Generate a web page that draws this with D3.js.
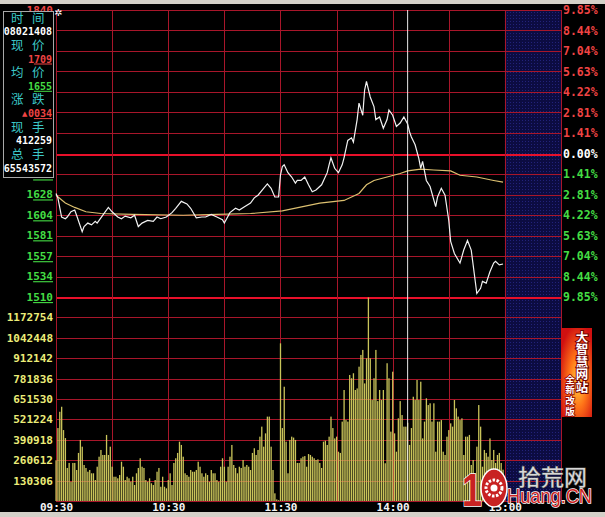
<!DOCTYPE html>
<html>
<head>
<meta charset="utf-8">
<script src="https://cdn.jsdelivr.net/npm/d3@7"></script>
<style>
    html, body { margin: 0; padding: 0; background: #000; overflow: hidden; }
    svg { display: block; }
</style>
</head>
<body>
<div id="chart"></div>
<script>
// values
const prevClose = 1675;
const limitPct = 9.85;

const priceTicks = [1840, 1816, 1793, 1769, 1746, 1722, 1698, 1675, 1651, 1628, 1604, 1581, 1557, 1534, 1510];
const pctTicks = ["9.85%", "8.44%", "7.04%", "5.63%", "4.22%", "2.81%", "1.41%", "0.00%",
                  "1.41%", "2.81%", "4.22%", "5.63%", "7.04%", "8.44%", "9.85%"];
const volumeTicks = [1172754, 1042448, 912142, 781836, 651530, 521224, 390918, 260612, 130306];
const timeTicks = [0, 60, 120, 180, 240];
const timeLabels = ["09:30", "10:30", "11:30", "14:00", "15:00"];

// minutes after 09:30 (13:00 = 120)
const priceMinutes = [0, 1, 3, 5, 6, 8, 10, 11, 14, 15, 17, 19, 21, 22, 24, 26, 28, 30, 33, 35, 37, 40, 42, 44, 46, 49,
    52, 54, 56, 59, 62, 64, 67, 70, 72, 75, 78, 80, 83, 86, 89, 90, 93, 96, 98, 101, 104, 106, 108, 111, 113, 115, 117, 119,
    120, 121, 122, 124, 126, 128, 129, 131, 133, 135, 137, 139, 142, 145, 146, 147, 149, 151, 153, 154, 156, 158, 159,
    161, 162, 164, 165, 166, 168, 170, 171, 173, 175, 177, 178, 180, 182, 184, 186, 188, 189, 190, 192, 194, 195, 196,
    198, 200, 203, 204, 206, 208, 210, 211, 213, 216, 218, 220, 222, 225, 227, 228, 230, 232, 234, 235, 237, 239];
const prices = [1629, 1624, 1602, 1600, 1602, 1608, 1610, 1604, 1585, 1591, 1595, 1593, 1597, 1595, 1601, 1607, 1613,
    1608, 1602, 1600, 1603, 1601, 1604, 1591, 1595, 1598, 1597, 1602, 1600, 1602, 1607, 1612, 1620, 1617, 1612, 1601,
    1602, 1602, 1605, 1602, 1599, 1595, 1607, 1612, 1610, 1614, 1618, 1624, 1627, 1635, 1640, 1635, 1625, 1625,
    1650, 1660, 1662, 1653, 1648, 1641, 1644, 1644, 1648, 1639, 1631, 1633, 1639, 1653, 1662, 1670, 1658, 1653, 1662,
    1670, 1690, 1693, 1688, 1714, 1733, 1719, 1748, 1758, 1740, 1729, 1714, 1717, 1704, 1714, 1725, 1719, 1706, 1710,
    1717, 1709, 1700, 1694, 1685, 1669, 1658, 1666, 1644, 1637, 1614, 1625, 1635, 1627, 1598, 1574, 1560, 1549, 1564,
    1575, 1564, 1514, 1520, 1528, 1526, 1539, 1549, 1551, 1547, 1548];

const avgMinutes = [0, 5, 10, 16, 24, 41, 68, 86, 104, 121, 130, 141, 154, 162, 166, 170, 177, 184, 188, 195, 202,
    211, 216, 225, 234, 239];
const avgPrices = [1627, 1618, 1613, 1608, 1606, 1605, 1604, 1605, 1606, 1609, 1613, 1618, 1621, 1629, 1639, 1644,
    1648, 1652, 1655, 1657, 1656, 1655, 1650, 1648, 1644, 1642];

// one bar per minute, thousands of shares
const volumesK = [
    260, 466, 570, 602, 453, 402, 211, 243, 123, 243,
    243, 198, 307, 390, 347, 230, 211, 187, 198, 177,
    177, 134, 219, 283, 326, 294, 294, 422, 294, 347,
    219, 155, 155, 145, 166, 251, 219, 134, 155, 145,
    123, 155, 102, 177, 211, 273, 219, 211, 134, 123,
    145, 113, 102, 134, 187, 211, 91, 155, 91, 81,
    134, 177, 102, 243, 273, 307, 379, 358, 283, 177,
    166, 155, 198, 187, 187, 198, 251, 219, 177, 155,
    177, 166, 123, 198, 177, 177, 134, 123, 219, 273,
    219, 123, 219, 283, 358, 230, 211, 177, 219, 211,
    262, 219, 230, 219, 198, 307, 337, 294, 326, 411,
    475, 347, 432, 539, 539, 347, 198, 49, 10, 5,
    1007, 466, 730, 379, 177, 390, 411, 405, 390, 243,
    243, 273, 283, 287, 219, 300, 294, 283, 273, 262,
    266, 243, 211, 379, 385, 358, 411, 539, 466, 400,
    411, 315, 307, 507, 709, 517, 507, 805, 784, 816,
    709, 719, 858, 933, 965, 751, 911, 1300, 911, 645,
    784, 965, 638, 709, 645, 709, 241, 880, 784, 443,
    826, 432, 315, 528, 638, 549, 475, 475, 500, 358,
    466, 666, 645, 773, 645, 762, 400, 507, 656, 613,
    624, 507, 624, 315, 507, 507, 517, 315, 294, 411,
    453, 496, 475, 645, 592, 539, 517, 528, 294, 411,
    411, 422, 230, 262, 177, 347, 613, 475, 219, 326,
    307, 283, 400, 262, 326, 243, 294, 307, 243, 200
];

const cursorMinute = 188;
const panelLabels = ["时间", "现价", "均价", "涨跌", "现手", "总手"];
const panelValues = ["08021408", "1709", "1655", "0034", "412259", "65543572"];
const bannerTitle = "大智慧网站";
const bannerSub = "全新改版";

const W = 605, H = 517;
const box = {left: 56, right: 561, top: 10, split: 297, bottom: 501};
const panelBox = {top: 11, bottom: 177};
const mono = "'DejaVu Sans Mono', 'Liberation Mono', monospace";
const cjk = "'Noto Sans CJK SC', sans-serif";
const sans = "'Liberation Sans', Arial, sans-serif";
const red = "#f04444", green = "#44dd44", gridRed = "#a8162a";

const svg = d3.select("#chart").append("svg")
    .attr("width", W)
    .attr("height", H)
    .style("background", "#000");

const defs = svg.append("defs");
const dots = defs.append("pattern").attr("id", "dots")
    .attr("width", 3).attr("height", 3).attr("patternUnits", "userSpaceOnUse");
dots.append("rect").attr("width", 3).attr("height", 3).attr("fill", "#0c0c42");
dots.append("rect").attr("width", 1).attr("height", 1).attr("fill", "#22227a");
const glow = defs.append("radialGradient").attr("id", "glow")
    .attr("cx", "0.55").attr("cy", "0.6").attr("r", "0.65");
glow.append("stop").attr("offset", "0").attr("stop-color", "#ffd040");
glow.append("stop").attr("offset", "0.45").attr("stop-color", "#ff7418");
glow.append("stop").attr("offset", "1").attr("stop-color", "#d01010");
// the part of the left labels that the info panel covers stays hidden
const clip = defs.append("clipPath").attr("id", "panelHole");
clip.append("rect").attr("x", 0).attr("y", 0).attr("width", 56).attr("height", panelBox.top);
clip.append("rect").attr("x", 0).attr("y", panelBox.bottom + 1).attr("width", 56).attr("height", 140);

// window frame
svg.append("rect").attr("x", 0).attr("y", 0).attr("width", W).attr("height", 4).attr("fill", "#d4d0c8");
svg.append("rect").attr("x", 0).attr("y", 512).attr("width", W).attr("height", 5).attr("fill", "#d4d0c8");

const x = d3.scaleLinear().domain([0, 270]).range([box.left, box.right]);
const yPrice = d3.scaleLinear()
    .domain([prevClose * (1 - limitPct / 100), prevClose * (1 + limitPct / 100)])
    .range([box.split, box.top]);
const yVol = d3.scaleLinear().domain([0, volumeTicks[volumeTicks.length - 1] * 10]).range([box.bottom, box.split]);

// after-hours zone
svg.append("rect")
    .attr("x", x(240)).attr("y", box.top)
    .attr("width", x(270) - x(240)).attr("height", box.bottom - box.top)
    .attr("fill", "url(#dots)");

// grid
const levels = d3.range(7, -8, -1).map((k) => prevClose * (1 + k * limitPct / 700));
const grid = svg.append("g").attr("shape-rendering", "crispEdges");
grid.selectAll(".hp").data(levels).enter().append("line")
    .attr("x1", box.left).attr("x2", box.right)
    .attr("y1", (d) => Math.round(yPrice(d)) + 0.5).attr("y2", (d) => Math.round(yPrice(d)) + 0.5)
    .attr("stroke", (d, i) => (i === 7 || i === 14) ? "#e8102a" : gridRed)
    .attr("stroke-width", (d, i) => (i === 7 || i === 14) ? 2 : 1);
grid.selectAll(".hv").data(volumeTicks.concat([0])).enter().append("line")
    .attr("x1", box.left).attr("x2", box.right)
    .attr("y1", (d) => Math.round(yVol(d)) + 0.5).attr("y2", (d) => Math.round(yVol(d)) + 0.5)
    .attr("stroke", gridRed);
grid.selectAll(".v").data(d3.range(0, 271, 30)).enter().append("line")
    .attr("x1", (d) => Math.round(x(d)) + 0.5).attr("x2", (d) => Math.round(x(d)) + 0.5)
    .attr("y1", box.top).attr("y2", box.bottom)
    .attr("stroke", gridRed);

// volume bars
svg.append("g").selectAll("rect").data(volumesK).enter().append("rect")
    .attr("x", (d, i) => x(i) - 0.6)
    .attr("width", 1.3)
    .attr("y", (d) => yVol(d * 1000))
    .attr("height", (d) => box.bottom - yVol(d * 1000))
    .attr("fill", "#c9c45a");

// average + price lines
const line = d3.line().x((d) => x(d[0])).y((d) => yPrice(d[1]));
svg.append("path").datum(d3.zip(avgMinutes, avgPrices))
    .attr("d", line).attr("fill", "none").attr("stroke", "#dcc070").attr("stroke-width", 1.2);
svg.append("path").datum(d3.zip(priceMinutes, prices))
    .attr("d", line).attr("fill", "none").attr("stroke", "#f2f2f2").attr("stroke-width", 1.2);

// cursor
svg.append("line")
    .attr("x1", x(cursorMinute)).attr("x2", x(cursorMinute))
    .attr("y1", box.top).attr("y2", box.bottom)
    .attr("stroke", "#e8e8e8").attr("stroke-width", 1);

// time axis
const timeAxis = svg.append("g").attr("transform", `translate(0, ${box.bottom})`)
    .call(d3.axisBottom(x).tickValues(timeTicks).tickFormat((d, i) => timeLabels[i]).tickSize(0).tickPadding(2));
timeAxis.select(".domain").remove();
timeAxis.attr("font-family", mono).attr("font-size", 11).attr("font-weight", "bold");
timeAxis.selectAll("text").attr("fill", "#f4f4f4");

// volume axis
const volAxis = svg.append("g").attr("transform", "translate(53, 0)")
    .call(d3.axisLeft(yVol).tickValues(volumeTicks).tickSize(0).tickPadding(0).tickFormat(d3.format("d")));
volAxis.select(".domain").remove();
volAxis.attr("font-family", mono).attr("font-size", 11).attr("font-weight", "bold");
volAxis.selectAll("text").attr("fill", "#ecec78");

// price axis (left); labels lying wholly under the info panel are dropped
const priceAxis = svg.append("g").attr("clip-path", "url(#panelHole)")
    .append("g").attr("transform", "translate(53, 0)")
    .call(d3.axisLeft(yPrice).tickValues(priceTicks).tickSize(0).tickPadding(0));
priceAxis.select(".domain").remove();
priceAxis.selectAll(".tick")
    .filter((d) => yPrice(d) > panelBox.top + 6 && yPrice(d) < panelBox.bottom - 6)
    .remove();
priceAxis.attr("font-family", mono).attr("font-size", 11).attr("font-weight", "bold");
priceAxis.selectAll("text")
    .attr("fill", (d) => d > prevClose ? red : (d < prevClose ? green : "#fff"))
    .each(function (d) {
        const s = String(d);
        const t = d3.select(this).text(null);
        t.append("tspan").text(s[0]);
        t.append("tspan").attr("text-decoration", "underline").text(s.slice(1));
    });

// percent axis (right)
const pctAxis = svg.append("g").attr("transform", `translate(${box.right + 2}, 0)`)
    .call(d3.axisRight(yPrice).tickValues(levels).tickSize(0).tickPadding(0).tickFormat((d, i) => pctTicks[i]));
pctAxis.select(".domain").remove();
pctAxis.attr("font-family", mono).attr("font-size", 11.5).attr("font-weight", "bold");
pctAxis.selectAll("text").attr("fill", (d, i) => i < 7 ? red : (i === 7 ? "#fff" : green));

svg.append("text").attr("x", 54).attr("y", 16).attr("fill", "#fff")
    .attr("font-size", 10).attr("font-family", "DejaVu Sans").text("✲");

// info panel
const panel = svg.append("g");
panel.append("rect").attr("x", 3.5).attr("y", panelBox.top + 0.5).attr("width", 50)
    .attr("height", panelBox.bottom - panelBox.top)
    .attr("fill", "#000").attr("stroke", "#a8a8a8");
panel.selectAll(".lbl").data(panelLabels).enter().append("text")
    .attr("x", "11 32")
    .attr("y", (d, i) => 18 + i * 27.3)
    .attr("dy", "0.36em")
    .attr("font-family", cjk).attr("font-size", 12.5)
    .attr("fill", "#3cc8c8")
    .text((d) => d);
const valueColors = ["#fff", red, green, red, "#fff", "#fff"];
panel.selectAll(".val").data(panelValues).enter().append("text")
    .attr("x", 52)
    .attr("y", (d, i) => 31.7 + i * 27.3)
    .attr("dy", "0.35em")
    .attr("text-anchor", "end")
    .attr("font-family", mono).attr("font-size", 10).attr("font-weight", "bold")
    .attr("fill", (d, i) => valueColors[i])
    .each(function (d, i) {
        const t = d3.select(this);
        if (i >= 1 && i <= 3) {
            t.append("tspan").text(d[0]);
            t.append("tspan").attr("text-decoration", "underline").text(d.slice(1));
        } else {
            t.text(d);
        }
    });
panel.append("text").attr("x", 22).attr("y", 31.7 + 3 * 27.3).attr("dy", "0.4em")
    .attr("font-size", 7).attr("fill", red).attr("font-family", "DejaVu Sans").text("▲");

// banner
const banner = svg.append("g");
banner.append("rect").attr("x", 561).attr("y", 328).attr("width", 31).attr("height", 89).attr("fill", "url(#glow)");
banner.selectAll(".bt").data(bannerTitle.split("")).enter().append("text")
    .attr("x", 582).attr("y", (d, i) => 337 + i * 12.5).attr("dy", "0.38em")
    .attr("text-anchor", "middle")
    .attr("font-family", cjk).attr("font-size", 12.5).attr("font-weight", "bold")
    .attr("fill", "#fff").attr("stroke", "#700000").attr("stroke-width", 2).attr("paint-order", "stroke")
    .text((d) => d);
banner.selectAll(".bs").data(bannerSub.split("")).enter().append("text")
    .attr("x", 570).attr("y", (d, i) => 379 + i * 10.8).attr("dy", "0.38em")
    .attr("text-anchor", "middle")
    .attr("font-family", cjk).attr("font-size", 9.5).attr("font-weight", "bold")
    .attr("fill", "#fff").attr("stroke", "#900000").attr("stroke-width", 1.5).attr("paint-order", "stroke")
    .text((d) => d);

// watermark: "1" + gear-like "0", then 拾荒网 / Huang.CN
const mark = svg.append("g");
mark.append("text").attr("x", 462).attr("y", 506)
    .attr("font-family", sans).attr("font-size", 46).attr("font-weight", "bold")
    .attr("textLength", 20).attr("lengthAdjust", "spacingAndGlyphs")
    .attr("fill", "#c82222").attr("stroke", "#fff").attr("stroke-width", 1.5).attr("paint-order", "stroke")
    .text("1");
mark.append("ellipse").attr("cx", 494).attr("cy", 488).attr("rx", 13).attr("ry", 19)
    .attr("fill", "#c82222").attr("stroke", "#fff").attr("stroke-width", 1.5);
mark.append("circle").attr("cx", 494).attr("cy", 488).attr("r", 8)
    .attr("fill", "none").attr("stroke", "#fff").attr("stroke-width", 3).attr("stroke-dasharray", "2.5 1.5");
mark.append("circle").attr("cx", 494).attr("cy", 488).attr("r", 3.5).attr("fill", "#fff");
mark.append("text").attr("x", 518).attr("y", 485)
    .attr("font-family", cjk).attr("font-size", 22)
    .attr("textLength", 69).attr("lengthAdjust", "spacingAndGlyphs")
    .attr("fill", "#d8d8d8").attr("stroke", "#505050").attr("stroke-width", 1.2).attr("paint-order", "stroke")
    .text("拾荒网");
mark.append("text").attr("x", 507).attr("y", 503)
    .attr("font-family", sans).attr("font-size", 21)
    .attr("textLength", 85).attr("lengthAdjust", "spacingAndGlyphs")
    .attr("fill", "#cc2222").attr("stroke", "#fff").attr("stroke-width", 1.5).attr("paint-order", "stroke")
    .text("Huang.CN");
</script>
</body>
</html>
